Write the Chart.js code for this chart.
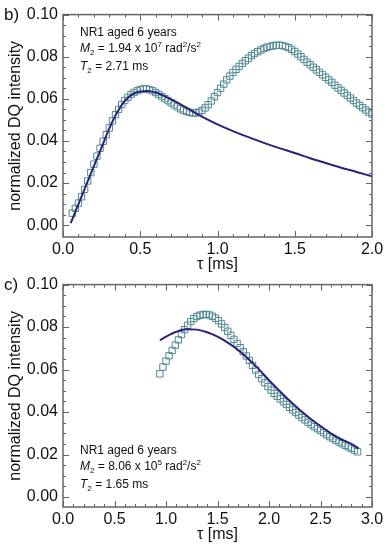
<!DOCTYPE html>
<html>
<head>
<meta charset="utf-8">
<script src="https://cdn.jsdelivr.net/npm/chart.js@4.4.0/dist/chart.umd.min.js"></script>
<style>
  body { margin: 0; background: #fff; }
  #wrap { position: relative; width: 389px; height: 550px; font-family: "Liberation Sans", Arial, sans-serif; color: #111; }
  .box { position: absolute; left: 0; width: 389px; height: 280px; }
  .panel { position: absolute; left: 4px; font-size: 17px; line-height: 17px; }
  .note { position: absolute; left: 80px; font-size: 12px; line-height: 16px; white-space: nowrap; }
  .sub { font-size: 8px; position: relative; top: 3px; }
  .sup { font-size: 8px; position: relative; top: -5px; }
</style>
</head>
<body>
<div id="wrap">
  <div class="box" style="top:0"><canvas id="chartB" width="389" height="280"></canvas></div>
  <div class="box" style="top:270px"><canvas id="chartC" width="389" height="280"></canvas></div>
  <div class="panel" style="top:6px">b)</div>
  <div class="panel" style="top:276px">c)</div>
  <div class="note" style="top:24px">NR1 aged 6 years<br><i>M</i><span class="sub">2</span> = 1.94 x 10<span class="sup">7</span> rad<span class="sup">2</span>/s<span class="sup">2</span><br><i>T</i><span class="sub">2</span> = 2.71 ms</div>
  <div class="note" style="top:442px">NR1 aged 6 years<br><i>M</i><span class="sub">2</span> = 8.06 x 10<span class="sup">5</span> rad<span class="sup">2</span>/s<span class="sup">2</span><br><i>T</i><span class="sub">2</span> = 1.65 ms</div>
</div>
<script>
// panel b) - measured DQ build-up (squares) and fit (line)
const tauB = [0.06,0.08,0.10,0.12,0.14,0.16,0.18,0.20,0.22,0.24,0.26,0.28,0.30,0.32,0.34,0.36,0.38,0.40,0.42,0.44,
  0.46,0.48,0.50,0.52,0.54,0.56,0.58,0.60,0.62,0.64,0.66,0.68,0.70,0.72,0.74,0.76,0.78,0.80,0.82,0.84,
  0.86,0.88,0.90,0.92,0.94,0.96,0.98,1.00,1.02,1.04,1.06,1.08,1.10,1.12,1.14,1.16,1.18,1.20,1.22,1.24,
  1.26,1.28,1.30,1.32,1.34,1.36,1.38,1.40,1.42,1.44,1.46,1.48,1.50,1.52,1.54,1.56,1.58,1.60,1.62,1.64,
  1.66,1.68,1.70,1.72,1.74,1.76,1.78,1.80,1.82,1.84,1.86,1.88,1.90,1.92,1.94,1.96,1.98,2.00];
const dqB = [0.0057,0.0080,0.0105,0.0135,0.0170,0.0210,0.0250,0.0290,0.0328,0.0365,0.0398,0.0430,0.0462,0.0495,0.0525,0.0550,0.0573,0.0592,0.0607,0.0620,
  0.0630,0.0638,0.0644,0.0647,0.0647,0.0644,0.0638,0.0630,0.0621,0.0611,0.0601,0.0591,0.0581,0.0571,0.0562,0.0553,0.0546,0.0540,0.0536,0.0533,
  0.0533,0.0537,0.0545,0.0557,0.0572,0.0590,0.0610,0.0630,0.0650,0.0670,0.0690,0.0708,0.0725,0.0740,0.0754,0.0768,0.0781,0.0793,0.0805,0.0815,
  0.0824,0.0832,0.0839,0.0845,0.0849,0.0852,0.0854,0.0855,0.0853,0.0849,0.0843,0.0835,0.0825,0.0813,0.0800,0.0787,0.0774,0.0762,0.0750,0.0738,
  0.0726,0.0714,0.0702,0.0690,0.0678,0.0665,0.0652,0.0640,0.0628,0.0616,0.0604,0.0592,0.0580,0.0569,0.0558,0.0547,0.0537,0.0528];
const fitTauB = [0.05,0.10,0.15,0.20,0.25,0.30,0.35,0.40,0.45,0.50,0.55,0.60,0.65,0.70,0.75,0.80,0.85,0.90,0.95,1.00,
  1.10,1.20,1.30,1.40,1.50,1.60,1.70,1.80,1.90,2.00];
const fitB = [0.0010,0.0100,0.0190,0.0280,0.0370,0.0460,0.0535,0.0590,0.0622,0.0635,0.0637,0.0630,0.0615,0.0597,0.0578,0.0557,0.0536,0.0516,0.0497,0.0479,
  0.0447,0.0418,0.0391,0.0366,0.0343,0.0318,0.0295,0.0273,0.0253,0.0232];

// panel c)
const tauC = [0.94,0.97,1.00,1.03,1.06,1.09,1.12,1.15,1.18,1.21,1.24,1.27,1.30,1.33,1.36,1.39,1.42,1.45,1.48,1.51,
  1.54,1.57,1.60,1.63,1.66,1.69,1.72,1.75,1.78,1.81,1.84,1.87,1.90,1.93,1.96,1.99,2.02,2.05,2.08,2.11,
  2.14,2.17,2.20,2.23,2.26,2.29,2.32,2.35,2.38,2.41,2.44,2.47,2.50,2.53,2.56,2.59,2.62,2.65,2.68,2.71,
  2.74,2.77,2.80,2.83,2.86];
const dqC = [0.0580,0.0612,0.0640,0.0665,0.0690,0.0715,0.0740,0.0765,0.0788,0.0808,0.0826,0.0840,0.0850,0.0856,0.0859,0.0860,0.0857,0.0851,0.0842,0.0830,
  0.0815,0.0798,0.0780,0.0761,0.0742,0.0723,0.0703,0.0684,0.0664,0.0643,0.0620,0.0598,0.0577,0.0557,0.0538,0.0520,0.0503,0.0488,0.0474,0.0462,
  0.0449,0.0436,0.0422,0.0410,0.0398,0.0386,0.0374,0.0363,0.0352,0.0341,0.0331,0.0322,0.0313,0.0303,0.0293,0.0284,0.0276,0.0267,0.0259,0.0251,
  0.0243,0.0236,0.0229,0.0221,0.0213];
const fitTauC = [0.94,1.00,1.10,1.20,1.30,1.40,1.50,1.60,1.70,1.80,1.90,2.00,2.10,2.20,2.30,2.40,2.50,2.60,2.70,2.80,2.87];
const fitC = [0.0738,0.0755,0.0778,0.0790,0.0788,0.0776,0.0755,0.0727,0.0692,0.0650,0.0602,0.0550,0.0500,0.0453,0.0410,0.0370,0.0334,0.0300,0.0272,0.0250,0.0229];

// tick labels
const xTicksB = [0, 0.5, 1.0, 1.5, 2.0];
const xTicksC = [0, 0.5, 1.0, 1.5, 2.0, 2.5, 3.0];
const yTicks = [0, 0.02, 0.04, 0.06, 0.08, 0.10];

Chart.defaults.font.family = '"Liberation Sans", Arial, sans-serif';
Chart.defaults.color = '#111';

function pts(xs, ys) {
  return xs.map((x, i) => ({ x: x, y: ys[i] }));
}

// box round the plot with inward ticks on all four sides
const framePlugin = {
  id: 'frame',
  afterDraw(chart, args, opts) {
    const { ctx, chartArea: a, scales: { x, y } } = chart;
    ctx.save();
    ctx.strokeStyle = '#666';
    ctx.lineWidth = 1.5;
    ctx.strokeRect(a.left, a.top, a.right - a.left, a.bottom - a.top);
    ctx.lineWidth = 1;
    ctx.beginPath();
    for (let i = 0; i * opts.xMinor <= x.max + 1e-9; i++) {
      const v = i * opts.xMinor;
      const px = Math.round(x.getPixelForValue(v)) + 0.5;
      const len = i % opts.xEvery === 0 ? 6 : 3;
      ctx.moveTo(px, a.bottom); ctx.lineTo(px, a.bottom - len);
      ctx.moveTo(px, a.top); ctx.lineTo(px, a.top + len);
    }
    for (let i = 0; i * opts.yMinor <= y.max + 1e-9; i++) {
      const v = i * opts.yMinor;
      const py = Math.round(y.getPixelForValue(v)) + 0.5;
      const len = i % opts.yEvery === 0 ? 6 : 3;
      ctx.moveTo(a.left, py); ctx.lineTo(a.left + len, py);
      ctx.moveTo(a.right, py); ctx.lineTo(a.right - len, py);
    }
    ctx.stroke();
    ctx.restore();
  }
};

function makeChart(id, data, fit, xMax, xTicks, yMin) {
  return new Chart(document.getElementById(id), {
    type: 'scatter',
    data: {
      datasets: [
        {
          label: 'fit',
          data: fit,
          showLine: true,
          pointRadius: 0,
          borderColor: '#2e1f82',
          borderWidth: 2,
          cubicInterpolationMode: 'monotone',
          order: 0
        },
        {
          label: 'DQ',
          data: data,
          showLine: false,
          pointStyle: 'rect',
          pointRadius: 4.5,
          borderWidth: 1,
          borderColor: '#4f8a92',
          backgroundColor: 'rgba(0,0,0,0)',
          order: 1
        }
      ]
    },
    options: {
      responsive: false,
      animation: false,
      layout: { padding: { top: 13, right: 17, left: 0, bottom: 0 } },
      plugins: {
        legend: { display: false },
        tooltip: { enabled: false },
        frame: { xMinor: 0.1, xEvery: 5, yMinor: 0.005, yEvery: 4 }
      },
      scales: {
        x: {
          type: 'linear',
          min: 0,
          max: xMax,
          afterBuildTicks: (s) => { s.ticks = xTicks.map((v) => ({ value: v })); },
          afterFit: (s) => { s.height = 43; },
          grid: { display: false, drawTicks: false },
          border: { display: false },
          ticks: { autoSkip: false, maxRotation: 0, padding: 3, font: { size: 16 }, callback: (v) => v.toFixed(1) },
          title: { display: true, text: 'τ [ms]', font: { size: 16 }, padding: { top: 0, bottom: 6 } }
        },
        y: {
          min: yMin,
          max: 0.1,
          afterBuildTicks: (s) => { s.ticks = yTicks.map((v) => ({ value: v })); },
          afterFit: (s) => { s.width = 63; },
          grid: { display: false, drawTicks: false },
          border: { display: false },
          ticks: { autoSkip: false, padding: 5, font: { size: 16 }, callback: (v) => v.toFixed(2) },
          title: { display: true, text: 'normalized DQ intensity', font: { size: 16 }, padding: { top: 6, bottom: 0 } }
        }
      }
    },
    plugins: [framePlugin]
  });
}

makeChart('chartB', pts(tauB, dqB), pts(fitTauB, fitB), 2.0, xTicksB, -0.0056);
makeChart('chartC', pts(tauC, dqC), pts(fitTauC, fitC), 3.0, xTicksC, -0.0047);
</script>
</body>
</html>
